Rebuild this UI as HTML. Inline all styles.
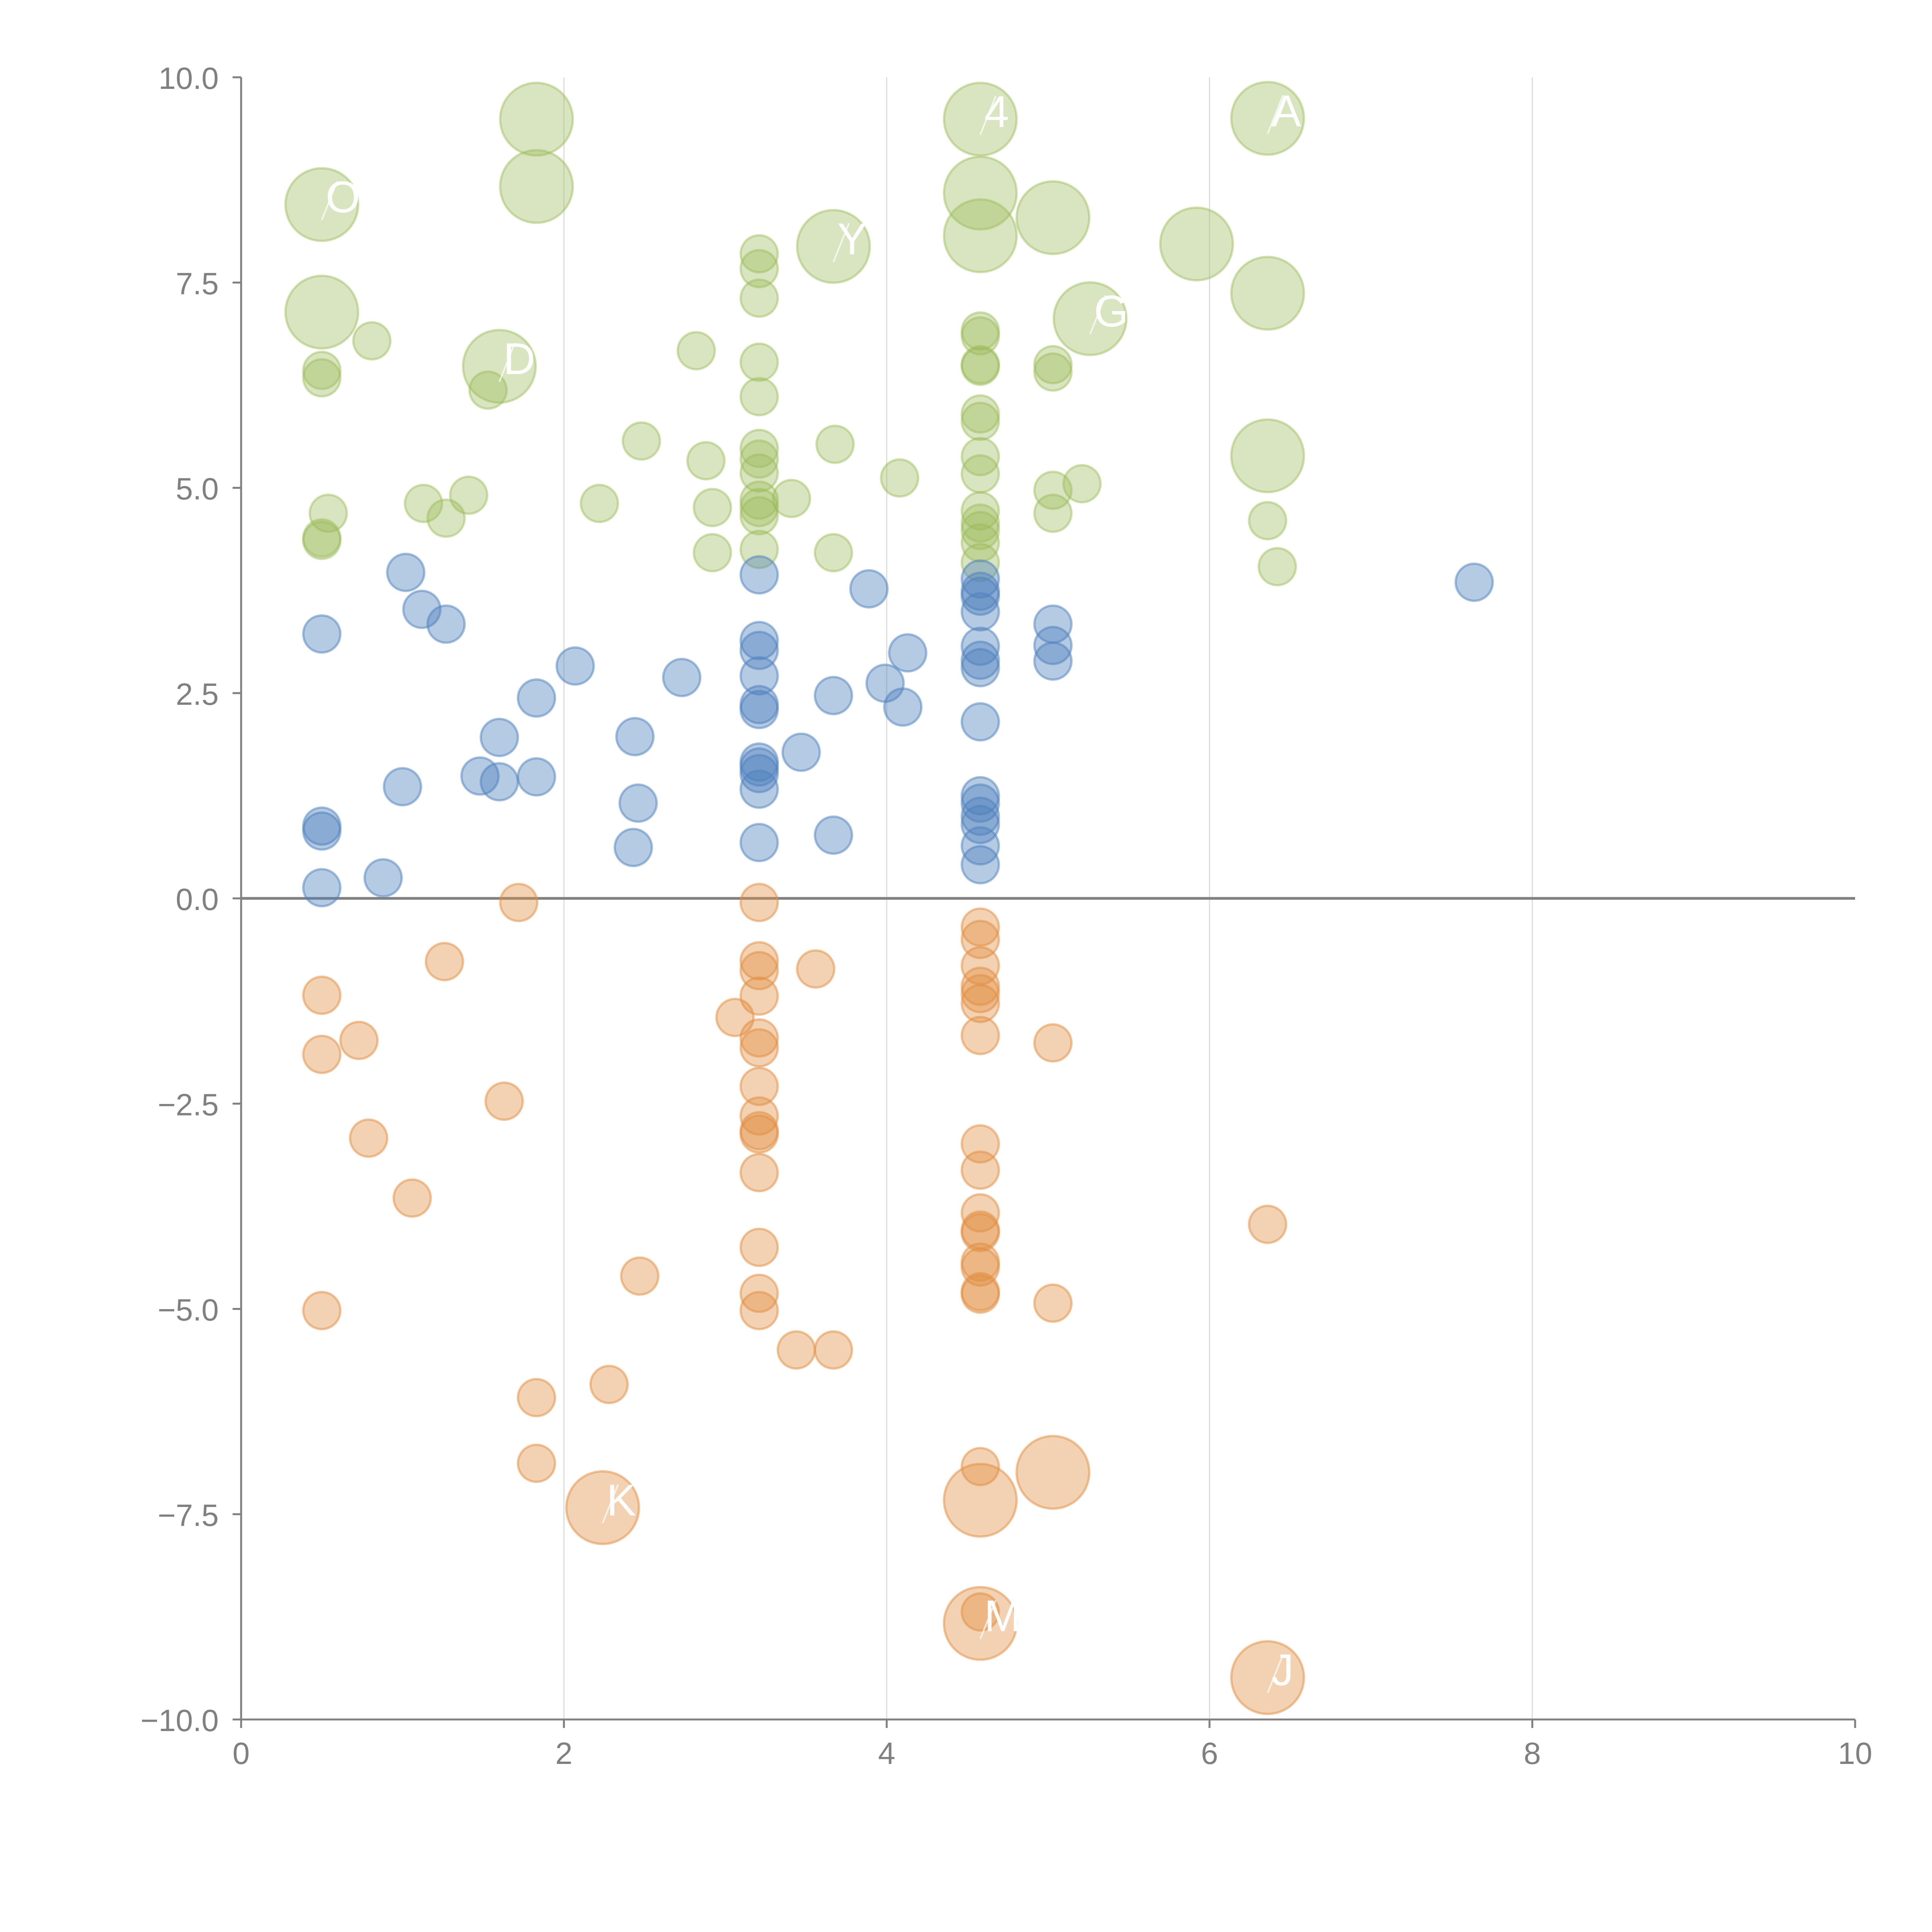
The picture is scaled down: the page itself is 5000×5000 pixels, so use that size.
<!DOCTYPE html>
<html><head><meta charset="utf-8"><style>
html,body{margin:0;padding:0;background:#fff;width:5000px;height:5000px;overflow:hidden}
svg{display:block}
text{font-family:"Liberation Sans",Arial,sans-serif}
</style></head><body>
<svg id="chart" width="5000" height="5000" viewBox="0 0 5000 5000" xmlns="http://www.w3.org/2000/svg">
<g id="grid"></g>
<g id="marks"></g>
<g id="labels"></g>
<g id="axes"></g>
</svg>
<script>
const xTicks=[0,2,4,6,8,10];
const yTicks=[-10,-7.5,-5,-2.5,0,2.5,5,7.5,10];
const yTickLabels=["\u221210.0","\u22127.5","\u22125.0","\u22122.5","0.0","2.5","5.0","7.5","10.0"];
const greenX=[1.83,1.83,0.5,0.5,1.6,3.67,4.58,4.58,4.58,5.03,5.92,5.26,6.36,6.36,6.36,
0.5,0.5,0.81,1.53,0.54,0.5,0.5,1.13,1.27,1.41,2.22,2.48,2.82,2.88,2.92,2.92,3.21,3.21,3.21,3.21,3.21,3.21,3.21,3.21,3.21,3.21,3.21,3.21,3.41,3.68,3.67,4.08,4.58,4.58,4.58,4.58,4.58,4.58,4.58,4.58,4.58,4.58,4.58,4.58,4.58,5.03,5.03,5.03,5.03,5.21,6.36,6.42];
const greenY=[9.49,8.67,8.45,7.14,6.48,7.94,9.49,8.59,8.07,8.29,7.97,7.06,9.5,7.37,5.39,
6.43,6.34,6.79,6.19,4.69,4.39,4.36,4.81,4.63,4.91,4.81,5.57,6.67,5.33,4.76,4.21,7.85,7.67,7.31,6.53,6.11,5.48,5.35,5.18,4.85,4.76,4.66,4.25,4.87,5.53,4.21,5.12,6.91,6.85,6.5,6.48,5.9,5.81,5.38,5.17,4.72,4.57,4.48,4.33,4.09,6.5,6.41,4.97,4.69,5.05,4.6,4.04];
const greenSize=[2,2,2,2,2,2,2,2,2,2,2,2,2,2,2];
const blueX=[0.5,0.5,0.5,0.5,0.88,1.0,1.02,1.12,1.27,1.48,1.6,1.6,1.83,1.83,2.07,2.44,2.46,2.43,2.73,3.21,3.21,3.21,3.21,3.21,3.21,3.21,3.21,3.21,3.21,3.21,3.47,3.67,3.67,3.89,3.99,4.1,4.13,4.58,4.58,4.58,4.58,4.58,4.58,4.58,4.58,4.58,4.58,4.58,4.58,4.58,4.58,5.03,5.03,5.03,7.64];
const blueY=[3.22,0.88,0.82,0.13,0.25,1.36,3.97,3.52,3.34,1.49,1.96,1.42,2.44,1.48,2.83,1.97,1.16,0.62,2.69,3.94,3.14,3.02,2.71,2.36,2.3,1.66,1.6,1.52,1.33,0.68,1.78,2.47,0.77,3.77,2.62,2.33,2.99,3.89,3.74,3.68,3.49,3.07,2.9,2.81,2.15,1.25,1.16,1.0,0.9,0.64,0.41,3.34,3.08,2.89,3.85];
const orangeX=[2.24,4.58,4.58,5.03,6.36,
1.72,0.5,0.5,0.73,1.26,1.63,0.79,1.06,0.5,2.47,1.83,2.28,1.83,3.21,3.21,3.21,3.21,3.06,3.21,3.21,3.21,3.21,3.21,3.21,3.21,3.21,3.21,3.21,3.44,3.67,3.56,
4.58,4.58,4.58,4.58,4.58,4.58,4.58,4.58,4.58,4.58,4.58,4.58,4.58,4.58,4.58,4.58,4.58,4.58,
5.03,5.03,6.36];
const orangeY=[-7.42,-7.33,-8.83,-6.99,-9.49,
-0.05,-1.18,-1.9,-1.73,-0.77,-2.47,-2.92,-3.65,-5.02,-4.6,-6.08,-5.92,-6.88,-0.05,-0.76,-0.88,-1.19,-1.45,-1.7,-1.82,-2.29,-2.65,-2.83,-2.87,-3.34,-4.25,-4.81,-5.02,-5.5,-5.5,-0.86,
-0.35,-0.5,-0.82,-1.07,-1.16,-1.28,-1.67,-2.99,-3.31,-3.83,-4.04,-4.07,-4.43,-4.49,-4.79,-4.82,-6.92,-8.69,
-1.76,-4.93,-3.97];
const orangeSize=[2,2,2,2,2];
const labelText=["OTL","D","Y","4","A","G","K","M","J"];
const labelX=[0.5,1.6,3.67,4.58,6.36,5.26,2.24,4.58,6.36];
const labelY=[8.45,6.48,7.94,9.49,9.5,7.06,-7.42,-8.83,-9.49];

const NS="http://www.w3.org/2000/svg";
const X0=624,X1=4801,YT=200,YB=4450;
function sx(v){return X0+(v-0)/(10-0)*(X1-X0);}
function sy(v){return YB-(v+10)/20*(YB-YT);}
function el(tag,attrs,parent){const e=document.createElementNS(NS,tag);for(const k in attrs)e.setAttribute(k,attrs[k]);parent.appendChild(e);return e;}
const grid=document.getElementById('grid'),marks=document.getElementById('marks'),labels=document.getElementById('labels'),axes=document.getElementById('axes');

xTicks.forEach(t=>{if(t>0&&t<10){const l=el('line',{x1:sx(t),x2:sx(t),y1:YT,y2:YB,stroke:'#dcdcdc','stroke-width':3},grid);

}});
const zl=el('line',{x1:X0,x2:X1,y1:sy(0),y2:sy(0),stroke:'#808080','stroke-width':7},grid);



function series(xs,ys,sizes,fill,stroke,name){
  xs.forEach((x,i)=>{
    const s=(sizes[i]||1);
    const r=s===2?94:48;
    const c=el('circle',{cx:sx(x),cy:sy(ys[i]),r:r,fill:fill,stroke:stroke,'stroke-width':6},marks);
    
    
  });
}
series(greenX,greenY,greenSize,'rgba(155,187,89,0.38)','rgba(155,187,89,0.45)','bubble-positive-high');
series(blueX,blueY,[],'rgba(79,129,189,0.42)','rgba(79,129,189,0.5)','bubble-positive-low');
series(orangeX,orangeY,orangeSize,'rgba(226,142,66,0.4)','rgba(226,142,66,0.5)','bubble-negative');

labelText.forEach((t,i)=>{
  const cx=sx(labelX[i]),cy=sy(labelY[i]);
  const ln=el('line',{x1:cx,y1:cy+40,x2:cx+40,y2:cy-60,stroke:'rgba(255,255,255,0.7)','stroke-width':4},labels);
  
  
  const tx=el('text',{x:cx+10,y:cy+20,fill:'#fff','font-size':115},labels);
  tx.textContent=t;
  
  
});

const ax=el('line',{x1:X0,x2:X0,y1:YT,y2:YB,stroke:'#808080','stroke-width':5},axes);


const bx=el('line',{x1:X0,x2:X1,y1:YB,y2:YB,stroke:'#808080','stroke-width':5},axes);


yTicks.forEach((t,i)=>{
  const y=sy(t);
  const tk=el('line',{x1:X0-22,x2:X0,y1:y,y2:y,stroke:'#808080','stroke-width':5},axes);
  
  
  const tx=el('text',{x:X0-58,y:y+30,fill:'#808080','font-size':80,'text-anchor':'end'},axes);
  tx.textContent=yTickLabels[i];
  
  
});
xTicks.forEach(t=>{
  const x=sx(t);
  const tk=el('line',{x1:x,x2:x,y1:YB,y2:YB+22,stroke:'#808080','stroke-width':5},axes);
  
  
  const tx=el('text',{x:x,y:YB+115,fill:'#808080','font-size':80,'text-anchor':'middle'},axes);
  tx.textContent=String(t);
  
  
});
</script>
</body></html>
